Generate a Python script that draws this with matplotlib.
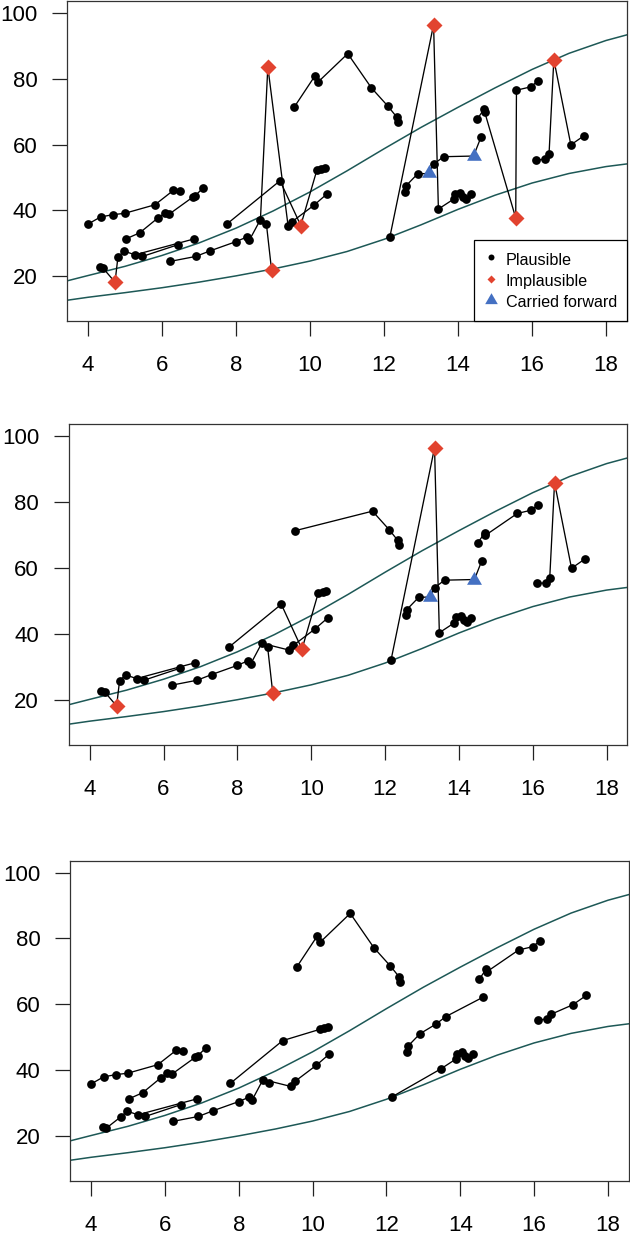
import matplotlib.pyplot as plt
from matplotlib.lines import Line2D

plt.rcParams['font.family'] = ['Liberation Sans', 'DejaVu Sans']

# Reference curves (upper and lower)
ref_age = [3.44, 4, 5, 6, 7, 8, 9, 10, 11, 12, 13, 14, 15, 16, 17, 18, 18.56]
ref_upper = [18.6, 20.2, 23.0, 26.3, 30.1, 34.6, 39.8, 45.6, 52.0, 58.7, 65.2, 71.3, 77.2, 82.8, 87.7, 91.6, 93.3]
ref_lower = [12.7, 13.6, 15.0, 16.5, 18.2, 20.1, 22.2, 24.6, 27.5, 31.2, 35.6, 40.3, 44.6, 48.3, 51.2, 53.3, 54.1]

# One child per block: ages, values, flag per point
# flag: p = plausible, i = implausible, c = carried forward
# show2: 1 if the point is drawn in the middle panel
age_a = [4.01, 4.34, 4.68, 4.99, 5.81, 6.31, 6.48]
val_a = [35.9, 38.0, 38.7, 39.1, 41.7, 46.1, 45.8]
flag_a = 'ppppppp'
show2_a = '0000000'

age_b = [5.04, 5.40, 5.89, 6.07, 6.20, 6.83, 6.89, 7.12]
val_b = [31.4, 33.2, 37.7, 39.1, 38.9, 44.0, 44.4, 46.9]
flag_b = 'pppppppp'
show2_b = '00000000'

age_c = [4.32, 4.41, 4.73, 4.81, 4.98, 5.27, 6.86]
val_c = [22.8, 22.4, 18.2, 25.9, 27.6, 26.5, 31.3]
flag_c = 'ppipppp'
show2_c = '1111111'

age_c2 = [5.47, 6.44]
val_c2 = [26.0, 29.6]
flag_c2 = 'pp'
show2_c2 = '11'

age_d = [6.22, 6.91, 7.30, 8.00, 8.29, 8.36, 8.66, 8.86, 9.41, 9.52, 10.10, 10.45]
val_d = [24.5, 26.0, 27.7, 30.5, 31.9, 30.9, 37.2, 83.6, 35.1, 36.6, 41.5, 44.9]
flag_d = 'pppppppipppp'
show2_d = '111111101111'

age_x = [8.82, 8.96]
val_x = [36.0, 22.0]
flag_x = 'pi'
show2_x = '11'

age_e = [7.77, 9.19, 9.75, 10.19, 10.31, 10.41]
val_e = [36.0, 49.0, 35.4, 52.4, 52.7, 53.0]
flag_e = 'ppippp'
show2_e = '111111'

age_f = [9.57, 10.13, 10.21, 11.02, 11.66, 12.11, 12.34, 12.38]
val_f = [71.3, 80.8, 78.9, 87.6, 77.2, 71.6, 68.4, 66.8]
flag_f = 'pppppppp'
show2_f = '10001111'

age_g1 = [12.16, 13.34, 13.47, 13.88, 13.92, 14.05, 14.14, 14.22, 14.34]
val_g1 = [32.0, 96.4, 40.4, 43.4, 45.0, 45.4, 44.2, 43.6, 44.9]
flag_g1 = 'pippppppp'
show2_g1 = '111111111'

age_g2 = [12.57, 12.59, 12.91, 13.21, 13.34, 13.61, 14.42, 14.62]
val_g2 = [45.7, 47.4, 51.1, 51.2, 54.0, 56.3, 56.5, 62.2]
flag_g2 = 'pppcppcp'
show2_g2 = '11111111'

age_h = [14.52, 14.70, 14.72, 15.56, 15.58, 15.96, 16.15]
val_h = [67.7, 70.7, 69.9, 37.7, 76.5, 77.5, 79.2]
flag_h = 'pppippp'
show2_h = '1110111'

age_i = [16.11, 16.36, 16.46, 16.59, 17.05, 17.41]
val_i = [55.3, 55.5, 57.0, 85.8, 59.9, 62.7]
flag_i = 'pppipp'
show2_i = '111111'

children = [
    (age_a, val_a, flag_a, show2_a), (age_b, val_b, flag_b, show2_b),
    (age_c, val_c, flag_c, show2_c), (age_c2, val_c2, flag_c2, show2_c2),
    (age_d, val_d, flag_d, show2_d), (age_x, val_x, flag_x, show2_x),
    (age_e, val_e, flag_e, show2_e), (age_f, val_f, flag_f, show2_f),
    (age_g1, val_g1, flag_g1, show2_g1), (age_g2, val_g2, flag_g2, show2_g2),
    (age_h, val_h, flag_h, show2_h), (age_i, val_i, flag_i, show2_i),
]

red = '#e2432f'
blue = '#4470c2'
teal = '#1d5856'
tri = [(-1, -0.577), (1, -0.577), (0, 1.155), (-1, -0.577)]

# marker style for each flag
styles = {
    'p': dict(marker='o', color='black', ms=6.3),
    'i': dict(marker='D', color=red, ms=7.8),
    'c': dict(marker=tri, color=blue, ms=12.4),
}

fig = plt.figure(figsize=(6.3, 12.35), dpi=100)
boxes = [[0.1068, 0.7401, 0.8880, 0.2591],
         [0.1095, 0.3968, 0.8862, 0.2599],
         [0.1116, 0.0437, 0.8863, 0.2594]]

for k, box in enumerate(boxes):
    ax = fig.add_axes(box)
    ax.plot(ref_age, ref_upper, color=teal, lw=1.1, zorder=1)
    ax.plot(ref_age, ref_lower, color=teal, lw=1.1, zorder=1)

    for age, val, flag, show2 in children:
        pts = []
        for j in range(len(age)):
            if k == 1 and show2[j] == '0':
                continue
            if k == 2 and flag[j] != 'p':
                continue
            pts.append((age[j], val[j], flag[j]))
        if not pts:
            continue
        ax.plot([p[0] for p in pts], [p[1] for p in pts], color='black', lw=0.95, zorder=2)
        for f in 'pic':
            xs = [p[0] for p in pts if p[2] == f]
            ys = [p[1] for p in pts if p[2] == f]
            if xs:
                st = styles[f]
                ax.plot(xs, ys, ls='none', marker=st['marker'], ms=st['ms'],
                        mfc=st['color'], mec='none', zorder=3)

    ax.set_xlim(3.44, 18.56)
    ax.set_ylim(6.4, 103.6)
    ax.set_xticks(range(4, 19, 2))
    ax.set_yticks(range(20, 101, 20))
    ax.tick_params(axis='both', length=11, width=0.9, labelsize=16, color='#222222')
    ax.tick_params(axis='y', pad=10.5)
    ax.tick_params(axis='x', pad=13.5)
    for s in ax.spines.values():
        s.set_linewidth(0.9)
        s.set_color('#333333')

    if k == 0:
        handles = [
            Line2D([], [], ls='none', marker='o', ms=4.3, mfc='black', mec='none'),
            Line2D([], [], ls='none', marker='D', ms=4.4, mfc=red, mec='none'),
            Line2D([], [], ls='none', marker=tri, ms=10.5, mfc=blue, mec='none'),
        ]
        leg = ax.legend(handles, ['Plausible', 'Implausible', 'Carried forward'],
                        loc='lower right', borderaxespad=0, fancybox=False,
                        edgecolor='black', framealpha=1, fontsize=11.6,
                        borderpad=0.6, handlelength=0.8, handletextpad=0.55,
                        handleheight=1.45, labelspacing=0.12)
        leg.get_frame().set_linewidth(0.9)

plt.savefig('out.png', dpi=100)
